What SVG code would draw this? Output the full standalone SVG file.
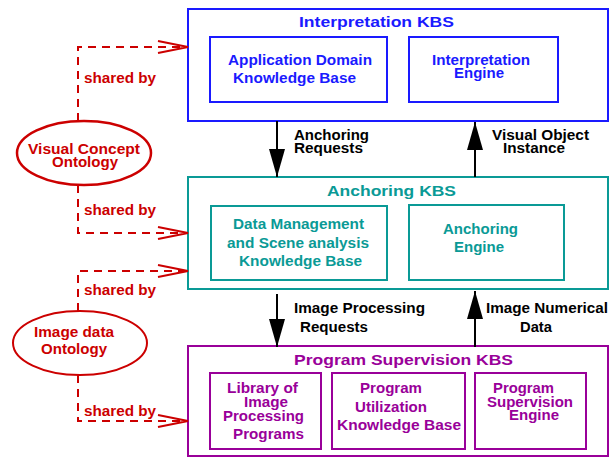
<svg xmlns="http://www.w3.org/2000/svg" width="610" height="458" viewBox="0 0 610 458">
<style>
text{font-family:"Liberation Sans",Arial,sans-serif;font-weight:bold;font-size:14px;lengthAdjust:spacingAndGlyphs}
.b{fill:#1a1aff}.t{fill:#0a9a96}.p{fill:#990099}.r{fill:#cc0000}.k{fill:#000}
.bx{fill:#fff;stroke-width:2}
.sb{stroke:#1a1aff}.st{stroke:#0a9a96}.sp{stroke:#990099}
.ttl{font-size:15px}
.dash{fill:none;stroke:#cc0000;stroke-width:2;stroke-dasharray:8 6}
.chev{fill:none;stroke:#cc0000;stroke-width:2}
.ar{stroke:#000;stroke-width:2}
</style>
<defs>
<marker id="ah" markerUnits="userSpaceOnUse" viewBox="0 0 28 16" markerWidth="28" markerHeight="16" refX="28" refY="8" orient="auto">
<path d="M0,0 L28,8 L0,16 Z" fill="#000"/>
</marker>
</defs>
<rect width="610" height="458" fill="#fff"/>

<g id="interpretation-kbs">
<rect class="bx sb" x="188" y="9" width="420" height="112"/>
<text class="b ttl" x="376.5" y="27" text-anchor="middle" textLength="155" lengthAdjust="spacingAndGlyphs">Interpretation KBS</text>
</g>
<g id="app-domain-kb">
<rect class="bx sb" x="210" y="37" width="177" height="65"/>
<text class="b" x="300" y="65" text-anchor="middle" textLength="144" lengthAdjust="spacingAndGlyphs">Application Domain</text>
<text class="b" x="294.5" y="83" text-anchor="middle" textLength="123" lengthAdjust="spacingAndGlyphs">Knowledge Base</text>
</g>
<g id="interpretation-engine">
<rect class="bx sb" x="409" y="37" width="149" height="65"/>
<text class="b" x="481" y="65" text-anchor="middle" textLength="98" lengthAdjust="spacingAndGlyphs">Interpretation</text>
<text class="b" x="479" y="78" text-anchor="middle" textLength="50" lengthAdjust="spacingAndGlyphs">Engine</text>
</g>

<g id="anchoring-kbs">
<rect class="bx st" x="188" y="177" width="420" height="112"/>
<text class="t ttl" x="391.5" y="196" text-anchor="middle" textLength="129" lengthAdjust="spacingAndGlyphs">Anchoring KBS</text>
</g>
<g id="data-management-kb">
<rect class="bx st" x="211" y="206" width="176" height="74" stroke-width="3"/>
<text class="t" x="298.5" y="229" text-anchor="middle" textLength="131" lengthAdjust="spacingAndGlyphs">Data Management</text>
<text class="t" x="298" y="248" text-anchor="middle" textLength="142" lengthAdjust="spacingAndGlyphs">and Scene analysis</text>
<text class="t" x="300.5" y="266" text-anchor="middle" textLength="123" lengthAdjust="spacingAndGlyphs">Knowledge Base</text>
</g>
<g id="anchoring-engine">
<rect class="bx st" x="409" y="205" width="155" height="75"/>
<text class="t" x="480.5" y="234" text-anchor="middle" textLength="75" lengthAdjust="spacingAndGlyphs">Anchoring</text>
<text class="t" x="479" y="252" text-anchor="middle" textLength="50" lengthAdjust="spacingAndGlyphs">Engine</text>
</g>

<g id="program-supervision-kbs">
<rect class="bx sp" x="188" y="346" width="420" height="110"/>
<text class="p ttl" x="403.5" y="365" text-anchor="middle" textLength="219" lengthAdjust="spacingAndGlyphs">Program Supervision KBS</text>
</g>
<g id="library-programs">
<rect class="bx sp" x="210" y="373" width="111" height="76"/>
<text class="p" x="262.5" y="393" text-anchor="middle" textLength="71" lengthAdjust="spacingAndGlyphs">Library of</text>
<text class="p" x="266" y="407" text-anchor="middle" textLength="44" lengthAdjust="spacingAndGlyphs">Image</text>
<text class="p" x="263.5" y="421" text-anchor="middle" textLength="81" lengthAdjust="spacingAndGlyphs">Processing</text>
<text class="p" x="268.5" y="439" text-anchor="middle" textLength="71" lengthAdjust="spacingAndGlyphs">Programs</text>
</g>
<g id="program-utilization-kb">
<rect class="bx sp" x="332" y="373" width="133" height="76"/>
<text class="p" x="391" y="393" text-anchor="middle" textLength="62" lengthAdjust="spacingAndGlyphs">Program</text>
<text class="p" x="391" y="412" text-anchor="middle" textLength="72" lengthAdjust="spacingAndGlyphs">Utilization</text>
<text class="p" x="399" y="430" text-anchor="middle" textLength="124" lengthAdjust="spacingAndGlyphs">Knowledge Base</text>
</g>
<g id="program-supervision-engine">
<rect class="bx sp" x="475" y="373" width="111" height="76"/>
<text class="p" x="523.5" y="393" text-anchor="middle" textLength="61" lengthAdjust="spacingAndGlyphs">Program</text>
<text class="p" x="530" y="407" text-anchor="middle" textLength="86" lengthAdjust="spacingAndGlyphs">Supervision</text>
<text class="p" x="534" y="420" text-anchor="middle" textLength="50" lengthAdjust="spacingAndGlyphs">Engine</text>
</g>

<g id="visual-concept-ontology">
<ellipse cx="84" cy="153" rx="67" ry="32" fill="#fff" stroke="#cc0000" stroke-width="2.5"/>
<text class="r" x="84" y="154" text-anchor="middle" textLength="112" lengthAdjust="spacingAndGlyphs">Visual Concept</text>
<text class="r" x="85" y="167" text-anchor="middle" textLength="66" lengthAdjust="spacingAndGlyphs">Ontology</text>
</g>
<g id="image-data-ontology">
<ellipse cx="80" cy="343" rx="67" ry="32" fill="#fff" stroke="#cc0000" stroke-width="2"/>
<text class="r" x="74" y="337" text-anchor="middle" textLength="80" lengthAdjust="spacingAndGlyphs">Image data</text>
<text class="r" x="74" y="354" text-anchor="middle" textLength="66" lengthAdjust="spacingAndGlyphs">Ontology</text>
</g>

<g id="connectors">
<line class="ar" x1="277" y1="121" x2="277" y2="177" marker-end="url(#ah)"/>
<line class="ar" x1="475" y1="177" x2="475" y2="122" marker-end="url(#ah)"/>
<line class="ar" x1="277" y1="294" x2="277" y2="347" marker-end="url(#ah)"/>
<line class="ar" x1="475" y1="347" x2="475" y2="291" marker-end="url(#ah)"/>
<text class="k" x="294" y="140" textLength="75" lengthAdjust="spacingAndGlyphs">Anchoring</text>
<text class="k" x="294" y="153" textLength="69" lengthAdjust="spacingAndGlyphs">Requests</text>
<text class="k" x="492" y="140" textLength="97" lengthAdjust="spacingAndGlyphs">Visual Object</text>
<text class="k" x="503" y="153" textLength="62" lengthAdjust="spacingAndGlyphs">Instance</text>
<text class="k" x="294" y="313" textLength="131" lengthAdjust="spacingAndGlyphs">Image Processing</text>
<text class="k" x="300" y="332" textLength="68" lengthAdjust="spacingAndGlyphs">Requests</text>
<text class="k" x="486" y="313" textLength="122" lengthAdjust="spacingAndGlyphs">Image Numerical</text>
<text class="k" x="520" y="332" textLength="32" lengthAdjust="spacingAndGlyphs">Data</text>

<path class="dash" d="M78,121 V47 H186"/>
<path class="chev" d="M158,41 L188,47 L158,53"/>
<path class="dash" d="M78,185 V233 H186"/>
<path class="chev" d="M158,227 L188,233 L158,239"/>
<path class="dash" d="M78,311 V271 H186"/>
<path class="chev" d="M158,265 L188,271 L158,277"/>
<path class="dash" d="M78,375 V421 H186"/>
<path class="chev" d="M158,415 L188,421 L158,427"/>
<text class="r" x="84" y="83" textLength="72" lengthAdjust="spacingAndGlyphs">shared by</text>
<text class="r" x="84" y="215" textLength="72" lengthAdjust="spacingAndGlyphs">shared by</text>
<text class="r" x="84" y="295" textLength="72" lengthAdjust="spacingAndGlyphs">shared by</text>
<text class="r" x="84" y="416" textLength="72" lengthAdjust="spacingAndGlyphs">shared by</text>
</g>
</svg>
